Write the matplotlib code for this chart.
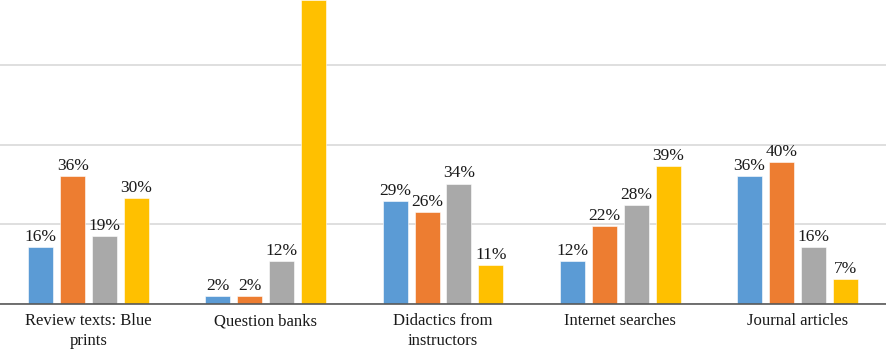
import numpy as np
import matplotlib
matplotlib.use("Agg")
import matplotlib.pyplot as plt

# data (percent labels per category)
categories = ["Review texts: Blue\nprints", "Question banks",
              "Didactics from\ninstructors", "Internet searches",
              "Journal articles"]
series_blue = [16, 2, 29, 12, 36]
series_orange = [36, 2, 26, 22, 40]
series_gray = [19, 12, 34, 28, 16]
series_yellow = [30, 86, 11, 39, 7]   # question banks bar runs off the top

colors = ["#5B9BD5", "#ED7D31", "#A9A9A9", "#FFC000"]

plt.rcParams['font.family'] = ['Liberation Serif', 'DejaVu Serif']

fig = plt.figure(figsize=(8.86, 3.6), dpi=100)
ax = fig.add_axes([0, 56.5 / 360, 1, 303.5 / 360])

x = np.arange(len(categories))
width = 0.141
pitch = 0.18
ytop = 86
all_series = [series_blue, series_orange, series_gray, series_yellow]

for i, vals in enumerate(all_series):
    offs = (i - 1.5) * pitch
    bars = ax.bar(x + offs, vals, width, color=colors[i], zorder=3,
                  edgecolor="white", linewidth=0.4)
    for b, v in zip(bars, vals):
        if v >= ytop - 2:
            continue  # label falls outside the cropped view
        ax.annotate("{}%".format(v), (b.get_x() + b.get_width() / 2, v),
                    xytext=(0, 1.5), textcoords="offset points",
                    ha="center", va="bottom", fontsize=12.5, color="#1a1a1a")

ax.set_xlim(-0.5, 4.5)
ax.set_ylim(0, ytop)
ax.set_yticks(np.arange(0, ytop, 22.5))
ax.yaxis.grid(True, color="#D9D9D9", linewidth=1.2, zorder=0)
ax.set_axisbelow(True)
ax.set_yticklabels([])
ax.tick_params(axis="y", length=0)

ax.set_xticks(x)
ax.set_xticklabels(categories, fontsize=12, color="#1a1a1a", linespacing=1.3)
ax.tick_params(axis="x", length=0, pad=7)

for s in ["top", "right", "left"]:
    ax.spines[s].set_visible(False)
ax.spines["bottom"].set_color("#595959")
ax.spines["bottom"].set_linewidth(1.2)
ax.spines["bottom"].set_zorder(4)

fig.savefig("out.png", dpi=100)
